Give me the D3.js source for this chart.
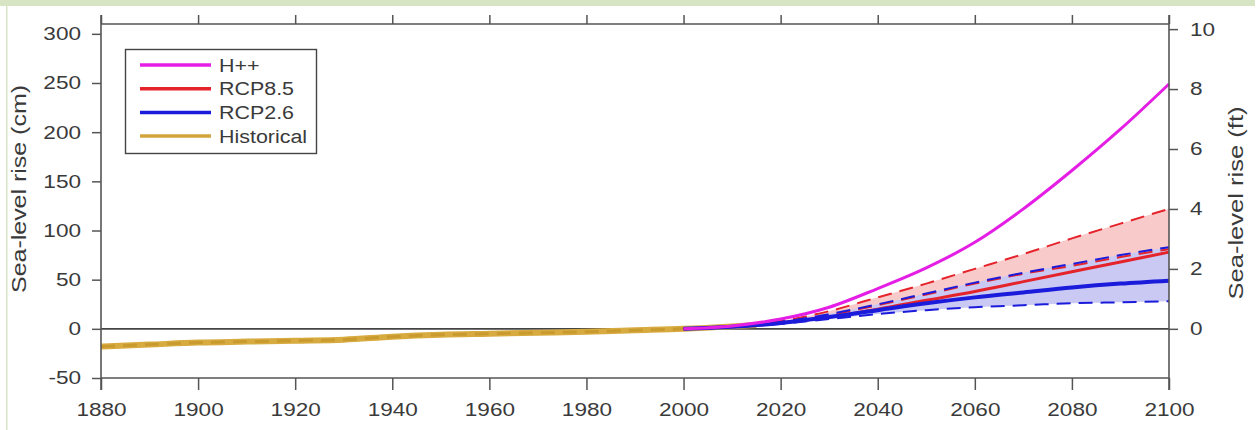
<!DOCTYPE html>
<html><head><meta charset="utf-8">
<script src="https://cdn.jsdelivr.net/npm/d3@7/dist/d3.min.js"></script>
<style>body{margin:0;background:#fff;}svg{display:block;font-family:"Liberation Sans",Arial,sans-serif;}</style>
</head><body><svg id="c" width="1257" height="430"></svg>
<script>
// ---- data ----
const xTicks = [1880,1900,1920,1940,1960,1980,2000,2020,2040,2060,2080,2100];
const cmTicks = [-50,0,50,100,150,200,250,300];
const ftTicks = [0,2,4,6,8,10];
const histYears = [1880,1890,1900,1910,1920,1930,1940,1950,1960,1970,1980,1990,2000,2010,2015];
const histVals  = [-18,-16,-14,-13,-12,-11,-8,-6,-5,-4,-3,-1.5,0,2.5,4];
const projYears = [2000,2010,2020,2030,2040,2050,2060,2070,2080,2090,2100];
const hppVals   = [0,3,10,22,41,62,88,122,161,203,249];
const rcp85Mid  = [0,2,6,12,20,29,38,48,58,68,78];
const rcp85Hi   = [0,3,8,18,32,46,61,76,92,107,122];
const rcp85Lo   = [0,2,6,14,24,35,46,56,64,73,81];
const rcp26Mid  = [0,2,6,12,19,26,32,37,42,46,49];
const rcp26Hi   = [0,2,7,15,25,36,47,57,66,75,83];
const rcp26Lo   = [0,2,5,10,15,19,22,24,26,27,28];
const legendLabels = ["H++","RCP8.5","RCP2.6","Historical"];
const legendColors = ["#e41ee4","#e5232a","#1b1bdc","#d2a43c"];

// ---- layout ----
const svg = d3.select("#c");
const L=101, R=1169, T=24, B=378;
const x = d3.scaleLinear().domain([1880,2100]).range([L,R]);
const y = d3.scaleLinear().domain([-50,310]).range([B,T]);
const yft = d3.scaleLinear().domain([-50/30.48,310/30.48]).range([B,T]);
const axisCol = "#555", textCol = "#3a3a3a";
const FONT = "'Liberation Sans',Arial,sans-serif";

function stretch(sel, k){
  sel.each(function(){
    const w = this.getComputedTextLength();
    this.setAttribute("textLength", w*k);
    this.setAttribute("lengthAdjust","spacingAndGlyphs");
  });
}

// page decorations
svg.append("rect").attr("x",0).attr("y",0).attr("width",1255).attr("height",6).attr("fill","#d8e5c4");
svg.append("rect").attr("x",6).attr("y",6).attr("width",1.5).attr("height",424).attr("fill","#d8e5c4");

const g = svg.append("g");
const line = d3.line().curve(d3.curveMonotoneX).x(d=>x(d[0])).y(d=>y(d[1]));
const zip = (a,b)=>a.map((v,i)=>[v,b[i]]);
const area = (lo,hi)=>d3.area().curve(d3.curveMonotoneX).x((d,i)=>x(projYears[i])).y0((d,i)=>y(lo[i])).y1((d,i)=>y(hi[i]))(projYears);

// shading
g.append("path").attr("d",area(rcp85Lo,rcp85Hi)).attr("fill","#f9caca");
g.append("path").attr("d",area(rcp26Lo,rcp26Hi)).attr("fill","#c9c9f4");

// zero line
g.append("line").attr("x1",L).attr("x2",R).attr("y1",y(0)).attr("y2",y(0)).attr("stroke","#444").attr("stroke-width",1.6);

// historical
g.append("path").attr("d",line(zip(histYears,histVals))).attr("fill","none").attr("stroke","#d8ab40").attr("stroke-width",6).attr("stroke-linecap","butt");
g.append("path").attr("d",line(zip(histYears,histVals))).attr("fill","none").attr("stroke","#c99a2e").attr("stroke-width",3).attr("stroke-dasharray","14,8");

// dashed ranges
const dash = (vals,col)=>g.append("path").attr("d",line(zip(projYears,vals))).attr("fill","none").attr("stroke",col).attr("stroke-width",2).attr("stroke-dasharray","14,8");
dash(rcp85Hi,"#e5232a");
dash(rcp85Lo,"#e5232a");
dash(rcp26Hi,"#1b1bdc");
dash(rcp26Lo,"#1b1bdc");

// medians
g.append("path").attr("d",line(zip(projYears,rcp85Mid))).attr("fill","none").attr("stroke","#e5232a").attr("stroke-width",3);
g.append("path").attr("d",line(zip(projYears,rcp26Mid))).attr("fill","none").attr("stroke","#1b1bdc").attr("stroke-width",4);
g.append("path").attr("d",line(zip(projYears,hppVals))).attr("fill","none").attr("stroke","#e41ee4").attr("stroke-width",3);

// axes
function styleAxis(sel){
  sel.select(".domain").remove();
  sel.selectAll(".tick line").attr("stroke",axisCol).attr("stroke-width",1.5);
  sel.selectAll(".tick text").attr("fill",textCol).attr("font-size",18.5).attr("font-family",FONT);
  stretch(sel.selectAll(".tick text"),1.22);
}
const fmt = d=>String(d);
const ax = g.append("g").attr("transform",`translate(0,${B})`).call(d3.axisBottom(x).tickValues(xTicks).tickFormat(fmt).tickSize(12).tickPadding(13));
styleAxis(ax);
const axT = g.append("g").attr("transform",`translate(0,${T})`).call(d3.axisTop(x).tickValues(xTicks).tickFormat("").tickSize(9));
styleAxis(axT);
const ayl = g.append("g").attr("transform",`translate(${L},0)`).call(d3.axisLeft(y).tickValues(cmTicks).tickFormat(fmt).tickSize(9).tickPadding(11));
styleAxis(ayl);
const ayr = g.append("g").attr("transform",`translate(${R},0)`).call(d3.axisRight(yft).tickValues(ftTicks).tickFormat(fmt).tickSize(9).tickPadding(12));
styleAxis(ayr);

// frame
g.append("line").attr("x1",L).attr("x2",R).attr("y1",T).attr("y2",T).attr("stroke",axisCol).attr("stroke-width",1.6);
g.append("line").attr("x1",L).attr("x2",R).attr("y1",B).attr("y2",B).attr("stroke",axisCol).attr("stroke-width",1.6);
g.append("line").attr("x1",L).attr("x2",L).attr("y1",15).attr("y2",390).attr("stroke",axisCol).attr("stroke-width",1.6);
g.append("line").attr("x1",R).attr("x2",R).attr("y1",15).attr("y2",390).attr("stroke",axisCol).attr("stroke-width",1.6);

// axis titles
svg.append("text").attr("transform",`translate(26,189) rotate(-90)`).attr("text-anchor","middle")
  .attr("fill",textCol).attr("font-size",21).attr("textLength",208).attr("lengthAdjust","spacingAndGlyphs").text("Sea-level rise (cm)");
svg.append("text").attr("transform",`translate(1243,203) rotate(-90)`).attr("text-anchor","middle")
  .attr("fill",textCol).attr("font-size",21).attr("textLength",193).attr("lengthAdjust","spacingAndGlyphs").text("Sea-level rise (ft)");

// legend
const lg = svg.append("g");
lg.append("rect").attr("x",125.5).attr("y",49.5).attr("width",191).attr("height",104).attr("fill","#fff").attr("stroke","#444").attr("stroke-width",1.4);
legendLabels.forEach((lab,i)=>{
  const yy = 65 + i*23.7;
  lg.append("line").attr("x1",140).attr("x2",211).attr("y1",yy).attr("y2",yy).attr("stroke",legendColors[i]).attr("stroke-width",3.5);
  const t = lg.append("text").attr("x",219).attr("y",yy+6.5).attr("fill",textCol).attr("font-size",18).text(lab);
  stretch(t,1.19);
});
</script></body></html>
